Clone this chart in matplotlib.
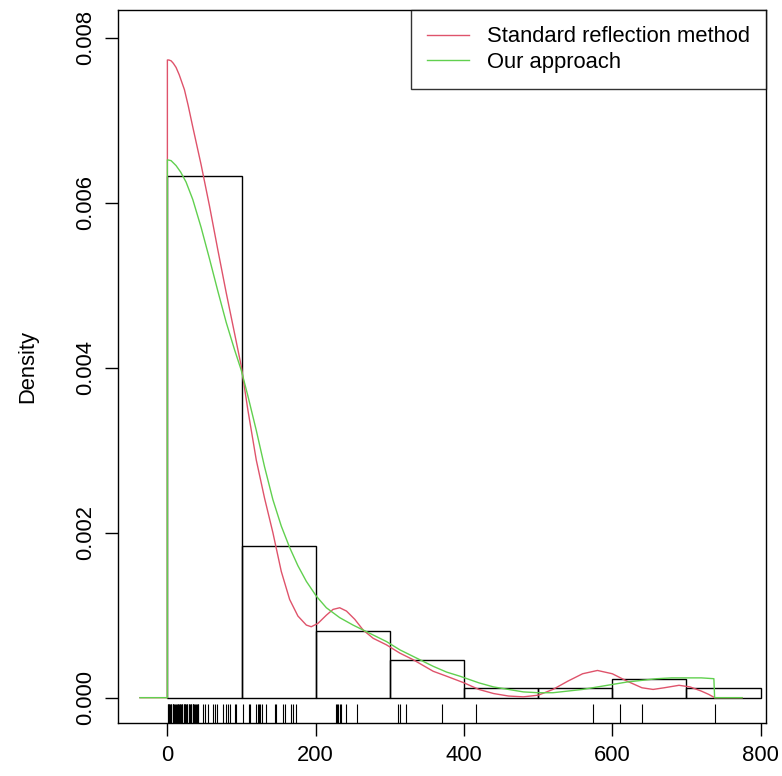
import matplotlib.pyplot as plt
import numpy as np

plt.rcParams['font.family'] = ['Liberation Sans', 'DejaVu Sans']

# observations (shown as rug and histogram)
obs = [0.4, 1.2, 1.8, 2.5, 3.1, 4.8, 5.5, 6.9, 7.5, 8.2, 9.0, 10.3, 11.7, 12.4,
       13.8, 14.6, 15.9, 16.5, 17.3, 18.1, 19.5, 20.2, 21.8, 22.6, 23.9, 24.3,
       25.1, 26.4, 27.0, 28.7, 29.3, 30.6, 31.8, 32.5, 33.9, 34.6, 35.2, 36.0,
       37.4, 38.8, 39.5, 40.7, 41.2,
       47.7, 51.4, 54.5, 61.3, 63.6, 66.8, 74.9, 78.6, 81.7, 84.0, 90.8, 93.1,
       101.8, 109.5, 112.0, 119.8, 122.0, 123.4, 125.3, 127.5, 133.3, 144.6,
       146.9, 155.8, 158.0, 167.0, 170.0, 174.0,
       228.0, 229.0, 230.5, 232.4, 234.7, 241.5, 255.5,
       311.0, 313.5, 321.6, 370.0,
       415.8, 574.0, 610.0, 640.5, 738.0]
bin_edges = [0, 100, 200, 300, 400, 500, 600, 700, 800]

# density estimates (y in units of 1e-3)
red_x = [-37, 0, 0, 2, 5, 8, 11.7, 16, 23, 28, 34.2, 45.5, 56.8, 68, 79.3, 90.5,
         99.6, 108.5, 119.9, 131, 142.3, 153.6, 164.9, 176, 187.4, 194, 203,
         214.4, 223.4, 232.4, 241.5, 252.7, 264, 277.5, 295.5, 313.5, 331.5,
         358.5, 376.6, 400, 420, 440, 460, 480, 500, 520, 540, 560, 580, 600,
         620, 640, 655, 670, 690, 705, 720, 730, 738, 775]
red_y = [0, 0, 7.73, 7.73, 7.72, 7.69, 7.64, 7.55, 7.37, 7.18, 6.92, 6.46, 5.96,
         5.43, 4.91, 4.42, 4.02, 3.49, 2.88, 2.42, 2.00, 1.53, 1.19, 0.99, 0.88,
         0.86, 0.90, 1.00, 1.07, 1.09, 1.05, 0.95, 0.82, 0.72, 0.64, 0.54, 0.46,
         0.32, 0.26, 0.18, 0.10, 0.05, 0.02, 0.01, 0.03, 0.10, 0.20, 0.29, 0.33,
         0.29, 0.20, 0.12, 0.10, 0.12, 0.15, 0.13, 0.08, 0.04, 0.0, 0.0]
green_x = [-37, 0, 0, 5, 11.7, 18, 25.2, 34.2, 45.5, 56.8, 68, 79.3, 90.5, 99.6,
           108.5, 119.9, 131, 142.3, 153.6, 164.9, 176, 187.4, 200.9, 214.4,
           232.4, 250.4, 264, 277.5, 295.5, 313.5, 331.5, 358.5, 376.6, 394.6,
           420, 440, 460, 480, 500, 520, 540, 560, 580, 600, 620, 640, 660, 680,
           700, 720, 737, 738, 775]
green_y = [0, 0, 6.52, 6.51, 6.45, 6.37, 6.25, 6.04, 5.70, 5.32, 4.93, 4.55, 4.22,
           3.97, 3.66, 3.24, 2.80, 2.40, 2.08, 1.82, 1.60, 1.41, 1.23, 1.09, 0.97,
           0.88, 0.82, 0.76, 0.68, 0.58, 0.50, 0.38, 0.31, 0.26, 0.18, 0.13, 0.10,
           0.07, 0.06, 0.06, 0.08, 0.10, 0.13, 0.16, 0.19, 0.21, 0.23, 0.24, 0.24,
           0.24, 0.23, 0.0, 0.0]

fs = 15.8
fig = plt.figure(figsize=(7.82, 7.76), dpi=100)
ax = fig.add_axes([118/782, 1 - 723/776, (766 - 118)/782, (723 - 10)/776])

ax.hist(obs, bins=bin_edges, density=True, fill=False, edgecolor='black', linewidth=1.0)
ax.plot(red_x, np.array(red_y) * 1e-3, color='#DF536B', lw=1.0, label='Standard reflection method')
ax.plot(green_x, np.array(green_y) * 1e-3, color='#61D04F', lw=1.0, label='Our approach')

# rug
ax.vlines(obs, 0, 0.027, transform=ax.get_xaxis_transform(), color='black', lw=0.8)

ax.set_xlim(-66.6, 807.3)
ax.set_ylim(-0.000307, 0.008336)
ax.set_xticks([0, 200, 400, 600, 800])
ax.set_yticks([0, 0.002, 0.004, 0.006, 0.008])
ax.set_yticklabels(['0.000', '0.002', '0.004', '0.006', '0.008'], rotation=90, va='center')
ax.tick_params(axis='both', direction='out', length=9.5, width=1.0, labelsize=fs)
ax.tick_params(axis='x', pad=6)
ax.tick_params(axis='y', pad=6)
for s in ax.spines.values():
    s.set_linewidth(1.0)
ax.set_ylabel('Density', fontsize=fs, labelpad=27)

leg = ax.legend(loc='upper right', fontsize=fs, frameon=True, fancybox=False,
                borderaxespad=0, borderpad=0.75, handlelength=1.9,
                handletextpad=0.8, labelspacing=0.2)
leg.get_frame().set_edgecolor('black')
leg.get_frame().set_linewidth(1.0)

fig.savefig('out.png', dpi=100)
